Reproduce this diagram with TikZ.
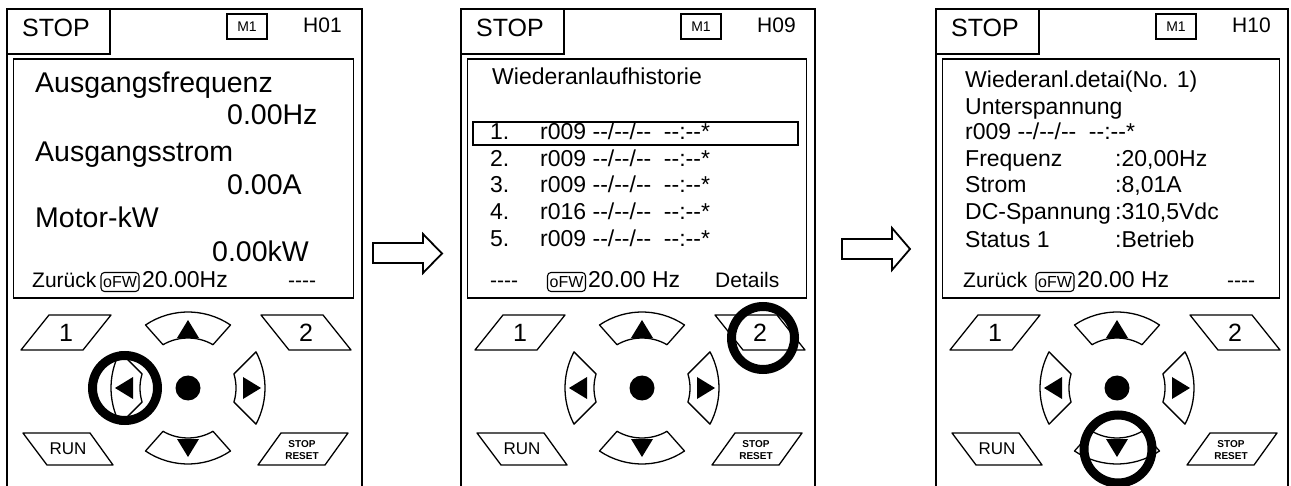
\documentclass[tikz,border=0pt]{standalone}
\usepackage{fontspec}
\setmainfont{Liberation Sans}
\newcommand\fs[1]{\fontsize{#1}{#1}\selectfont}
\newcommand\dsh{\mbox{-}\mbox{-}}
\tikzset{
 frame/.style={line width=1.8pt},
 btn/.style={line width=1.3pt, line join=round},
 txt/.style={inner sep=0pt, anchor=base west},
 big/.style={txt, font=\fs{28.5}},
 mid/.style={txt, font=\fs{23}},
 sml/.style={txt, font=\fs{21}},
 frq/.style={txt, font=\fs{23}},
 ofwbox/.style={draw, rounded corners=3.5pt, line width=1.1pt, minimum width=38pt, minimum height=19pt, inner sep=0pt, font=\fs{16}},
 keylbl/.style={inner sep=0pt, font=\fs{25}},
 hl/.style={line width=9pt},
 blockarrow/.style={line width=1.8pt, line join=miter, fill=white},
}
\newcommand\panelframe[2]{%
 \draw[frame] (0,490) -- (0,9) -- (#1,9) -- (#1,490);
 \draw[frame] (0,9) rectangle (103,54);
 \node[txt, font=\fs{25}] (stop) at (15,37) {STOP};
 \node[draw, line width=1.2pt, minimum width=40pt, minimum height=25pt, inner sep=0pt, font=\fs{14}] (m1) at (240,26.5) {M1};
 \node[txt, font=\fs{21}] (code) at (296,33) {#2};
 \draw[frame] (6.5,59) rectangle (#1-8.5,298);
}
\newcommand\keypad{%
 \draw[btn] (14,350) -- (42,315) -- (104,315) -- (76,350) -- cycle;
 \node[keylbl] (k1) at (59,333) {1};
 \draw[btn] (254,315) -- (316,315) -- (344,350) -- (282,350) -- cycle;
 \node[keylbl] (k2) at (299,333) {2};
 \draw[btn] (16,433) -- (83,433) -- (106,465) -- (40,465) -- cycle;
 \node[inner sep=0pt, font=\fs{17}] (run) at (61,449) {RUN};
 \draw[btn] (274,433) -- (341,433) -- (318,465) -- (251,465) -- cycle;
 \node[inner sep=0pt, font=\bfseries\fs{10}] (stopk) at (295,444.5) {STOP};
 \node[inner sep=0pt, font=\bfseries\fs{10}] (resetk) at (295,456.5) {RESET};
 \begin{scope}[shift={(181,388)}]
  \fill (0,0) circle[radius=12.5];
  \draw[btn] plot[domain=-124:-56,samples=16] (\x:76) -- plot[domain=-60:-120,samples=16] (\x:50) -- cycle;
  \draw[btn] plot[domain=124:56,samples=16] (\x:76) -- plot[domain=60:120,samples=16] (\x:50) -- cycle;
  \draw[btn] plot[domain=152:208,samples=16] (\x:77) -- plot[domain=197:163,samples=16] (\x:48) -- cycle;
  \draw[btn] plot[domain=28:-28,samples=16] (\x:77) -- plot[domain=-17:17,samples=16] (\x:48) -- cycle;
  \fill (0,-68) -- (-11,-50) -- (11,-50) -- cycle;
  \fill (0,69) -- (-11,51) -- (11,51) -- cycle;
  \fill (-73,0) -- (-55,-11) -- (-55,11) -- cycle;
  \fill (73,0) -- (55,-11) -- (55,11) -- cycle;
 \end{scope}
}
\begin{document}
\begin{tikzpicture}[x=1pt,y=-1pt]
\useasboundingbox (0,0) rectangle (1291,486);
\fill[white] (0,0) rectangle (1291,486);

% ---------- panel 1
\begin{scope}[shift={(7,0)}, name prefix=a-]
 \panelframe{355}{H01}
 \node[big] (l1) at (28,93) {Ausgangsfrequenz};
 \node[big] (v1) at (220,125) {0.00Hz};
 \node[big] (l2) at (28,162) {Ausgangsstrom};
 \node[big] (v2) at (220,195) {0.00A};
 \node[big] (l3) at (28,228) {Motor-kW};
 \node[big] (v3) at (205,262) {0.00kW};
 \node[sml] (back) at (25,288) {Zurück};
 \node[ofwbox] (ofw) at (113,282) {oFW};
 \node[frq] (freq) at (135,288) {20.00Hz};
 \node[sml] (dash) at (281,288) {\dsh\dsh};
 \keypad
 \draw[hl] (118,388) circle[radius=32.5];
\end{scope}

% ---------- panel 2
\begin{scope}[shift={(461,0)}, name prefix=b-]
 \panelframe{354}{H09}
 \node[mid] (title) at (31,85) {Wiederanlaufhistorie};
 \draw[line width=1.5pt] (12,122) rectangle (337,145);
 \foreach \n/\r/\y in {1/r009/140, 2/r009/167, 3/r009/193, 4/r016/220, 5/r009/247}{
  \node[mid] (n\n) at (29,\y) {\n.};
  \node[mid] (e\n) at (79,\y) {\r{} \dsh/\dsh/\dsh\hspace{.55em}\dsh:\dsh*};
 }
 \node[sml] (dash) at (29,288) {\dsh\dsh};
 \node[ofwbox] (ofw) at (105.5,282) {oFW};
 \node[frq] (freq) at (127,288) {20.00 Hz};
 \node[sml] (det) at (254,288) {Details};
 \keypad
 \draw[hl] (302,338) circle[radius=31.5];
\end{scope}

% ---------- panel 3
\begin{scope}[shift={(936,0)}, name prefix=c-]
 \panelframe{352}{H10}
 \node[mid] (t1) at (29,88) {Wiederanl.detai(No. 1)};
 \node[mid] (t2) at (29,115) {Unterspannung};
 \node[mid] (t3) at (29,140) {r009 \dsh/\dsh/\dsh\hspace{.55em}\dsh:\dsh*};
 \node[mid] (t4) at (29,167) {Frequenz};
 \node[mid] (u4) at (179,167) {:20,00Hz};
 \node[mid] (t5) at (29,193) {Strom};
 \node[mid] (u5) at (179,193) {:8,01A};
 \node[mid] (t6) at (29,220) {DC-Spannung};
 \node[mid] (u6) at (179,220) {:310,5Vdc};
 \node[mid] (t7) at (29,248) {Status 1};
 \node[mid] (u7) at (179,248) {:Betrieb};
 \node[sml] (back) at (27,288) {Zurück};
 \node[ofwbox] (ofw) at (119,282) {oFW};
 \node[frq] (freq) at (141,288) {20.00 Hz};
 \node[sml] (dash) at (291,288) {\dsh\dsh};
 \keypad
 \draw[hl] (182,449) circle[radius=34];
\end{scope}

% ---------- block arrows
\draw[blockarrow] (373,243) -- (423,243) -- (423,234) -- (442,253.5) -- (423,273) -- (423,263) -- (373,263) -- cycle;
\draw[blockarrow] (842,239) -- (892,239) -- (892,228) -- (910,249) -- (892,270) -- (892,259) -- (842,259) -- cycle;
\end{tikzpicture}
\end{document}
